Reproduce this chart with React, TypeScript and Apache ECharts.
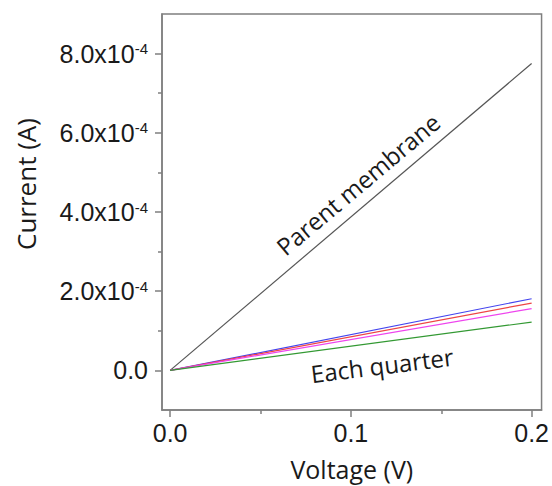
import React, { useEffect, useRef } from "react";
import * as echarts from "echarts";

const voltage = [0, 0.2];
const parentCurrent = [0, 7.75e-4];
const quarterBlue = [0, 1.81e-4];
const quarterRed = [0, 1.7e-4];
const quarterMagenta = [0, 1.56e-4];
const quarterGreen = [0, 1.22e-4];

const yMajorTicks = [0, 2e-4, 4e-4, 6e-4, 8e-4];
const yMinorTicks = [1e-4, 3e-4, 5e-4, 7e-4];
const xMajorTicks = [0, 0.1, 0.2];
const xMinorTicks = [0.05, 0.15];

const toPairs = (ys: number[]) => voltage.map((x, i) => [x, ys[i]]);

const AXIS = "#7f7f7f";
const TXT = "#1a1a1a";

export default function App() {
  const ref = useRef<HTMLDivElement>(null);
  useEffect(() => {
    if (!ref.current) return;
    const chart = echarts.init(ref.current, undefined, { renderer: "svg" });
    const yMin = -1e-4;
    const yMax = 9e-4;
    const xMin = -0.0045;
    const xMax = 0.2055;
    const line = (name: string, ys: number[], color: string) => ({
      name,
      type: "line",
      data: toPairs(ys),
      showSymbol: false,
      symbol: "none",
      lineStyle: { color, width: 1.2 },
      xAxisIndex: 0,
      yAxisIndex: 0,
    });
    chart.setOption({
      animation: false,
      backgroundColor: "#ffffff",
      grid: {
        left: 162,
        right: 10,
        top: 14,
        bottom: 73,
        show: true,
        borderColor: AXIS,
        borderWidth: 1.5,
      },
      xAxis: [
        {
          type: "value",
          min: xMin,
          max: xMax,
          name: "Voltage (V)",
          nameLocation: "middle",
          nameGap: 46,
          nameTextStyle: { fontFamily: "Open Sans", fontSize: 25, color: TXT },
          axisLine: { show: true, onZero: false, lineStyle: { color: AXIS, width: 1.5 } },
          axisTick: { show: true, length: 7, customValues: xMajorTicks, lineStyle: { color: AXIS, width: 1.5 } },
          axisLabel: {
            customValues: xMajorTicks,
            margin: 10,
            fontFamily: "Liberation Sans",
            fontSize: 25,
            color: TXT,
            formatter: (v: number) => v.toFixed(1),
          },
          splitLine: { show: false },
        },
        {
          type: "value",
          min: xMin,
          max: xMax,
          position: "bottom",
          axisLine: { show: false, onZero: false },
          axisTick: { show: true, length: 4, customValues: xMinorTicks, lineStyle: { color: AXIS, width: 1.5 } },
          axisLabel: { show: false },
          splitLine: { show: false },
        },
      ],
      yAxis: [
        {
          type: "value",
          min: yMin,
          max: yMax,
          name: "Current (A)",
          nameLocation: "middle",
          nameGap: 123,
          nameTextStyle: {
            fontFamily: "Open Sans",
            fontSize: 26,
            color: TXT,
            padding: [0, 0, 0, 56],
          },
          axisLine: { show: true, onZero: false, lineStyle: { color: AXIS, width: 1.5 } },
          axisTick: { show: true, length: 7, customValues: yMajorTicks, lineStyle: { color: AXIS, width: 1.5 } },
          axisLabel: {
            customValues: yMajorTicks,
            margin: 14,
            color: TXT,
            formatter: (v: number) => {
              if (Math.abs(v) < 1e-12) return "{m|0.0}";
              const n = v * 1e4;
              return `{m|${n.toFixed(1)}x10}{s|-4}`;
            },
            rich: {
              m: { fontFamily: "Liberation Sans", fontSize: 25, color: TXT },
              s: {
                fontFamily: "Liberation Sans",
                fontSize: 15,
                color: TXT,
                verticalAlign: "top",
                padding: [0, 0, 10, 0],
              },
            },
          },
          splitLine: { show: false },
        },
        {
          type: "value",
          min: yMin,
          max: yMax,
          position: "left",
          axisLine: { show: false, onZero: false },
          axisTick: { show: true, length: 4, customValues: yMinorTicks, lineStyle: { color: AXIS, width: 1.5 } },
          axisLabel: { show: false },
          splitLine: { show: false },
        },
      ],
      series: [
        line("Parent membrane", parentCurrent, "#555555"),
        line("Quarter 1", quarterBlue, "#4444ee"),
        line("Quarter 2", quarterRed, "#ee4444"),
        line("Quarter 3", quarterMagenta, "#ee44ee"),
        line("Quarter 4", quarterGreen, "#339933"),
      ],
      graphic: [
        {
          type: "text",
          x: 358,
          y: 184,
          rotation: (40 * Math.PI) / 180,
          style: {
            text: "Parent membrane",
            fontFamily: "Open Sans",
            fontSize: 24,
            fill: TXT,
            textAlign: "center",
            textVerticalAlign: "middle",
          },
        },
        {
          type: "text",
          x: 382,
          y: 365,
          rotation: (7 * Math.PI) / 180,
          style: {
            text: "Each quarter",
            fontFamily: "Open Sans",
            fontSize: 24,
            fill: TXT,
            textAlign: "center",
            textVerticalAlign: "middle",
          },
        },
      ],
    });
    return () => chart.dispose();
  }, []);
  return <div ref={ref} style={{ width: 552, height: 486, position: "absolute", left: 0, top: 0 }} />;
}
